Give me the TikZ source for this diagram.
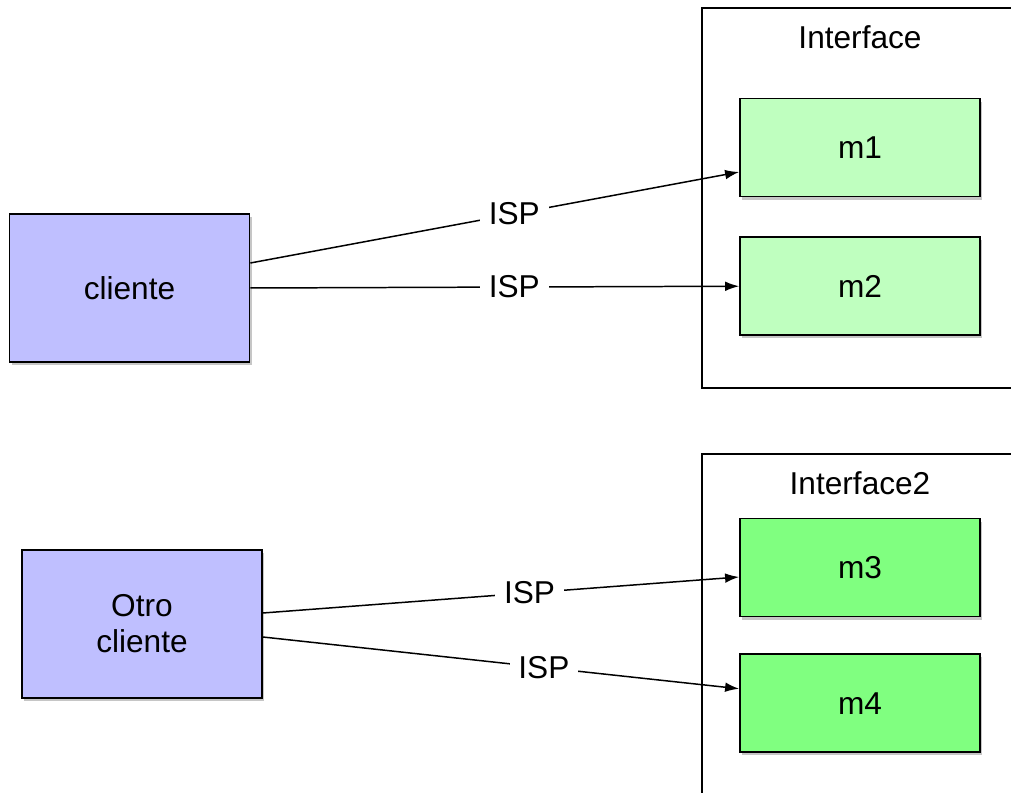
\documentclass[tikz,border=0pt]{standalone}
\usepackage{fontspec}
\setmainfont{Liberation Sans}
\usetikzlibrary{positioning, shadows, arrows.meta}

\definecolor{clientblue}{RGB}{191,191,255}
\definecolor{methodlight}{RGB}{191,255,191}
\definecolor{methodgreen}{RGB}{128,255,128}

\begin{document}
\begin{tikzpicture}[
                x=0.02cm, y=-0.02cm,
                font=\fontsize{18}{20.5}\selectfont,
                >={Latex[length=8pt, width=5.5pt]},
                every edge/.style={draw, line width=0.85pt},
                box/.style={draw, line width=1pt, minimum width=4.8cm, drop shadow={shadow xshift=1.2pt, shadow yshift=-1.8pt, opacity=0.45}},
                client/.style={box, fill=clientblue, minimum height=2.96cm, align=center},
                method/.style={box, minimum height=1.96cm},
                iface/.style={draw, line width=0.8pt, minimum width=6.8cm, minimum height=7.6cm},
                connlabel/.style={fill=white, inner xsep=5pt, inner ysep=2pt}]

    \clip (0,0) rectangle (1011,793);

    %%% NODES
    \node [iface] (interface) at (872,198) {};
    \node at (860,37) (interfacetitle) {Interface};
    \node [method, fill=methodlight] (m1) at (860,147.5) {m1};
    \node [method, fill=methodlight, below=0.78cm of m1] (m2) {m2};

    \node [iface] (interfacetwo) at (872,644) {};
    \node at (860,483) (interfacetwotitle) {Interface2};
    \node [method, fill=methodgreen] (m3) at (860,567.5) {m3};
    \node [method, fill=methodgreen, below=0.72cm of m3] (m4) {m4};

    \node [client] (cliente) at (129.5,288) {cliente};
    \node [client] (otrocliente) at (142,624) {Otro\\cliente};

    %%% CONNECTIONS
    \path ([yshift=0.5cm]cliente.east) edge [->] node[connlabel, pos=0.54] {ISP} ([yshift=-0.49cm]m1.west);
    \path (cliente.east) edge [->] node[connlabel, pos=0.54] {ISP} (m2.west);
    \path ([yshift=0.22cm]otrocliente.east) edge [->] node[connlabel, pos=0.56] {ISP} ([yshift=-0.19cm]m3.west);
    \path ([yshift=-0.26cm]otrocliente.east) edge [->] node[connlabel, pos=0.59] {ISP} ([yshift=0.29cm]m4.west);

\end{tikzpicture}
\end{document}
